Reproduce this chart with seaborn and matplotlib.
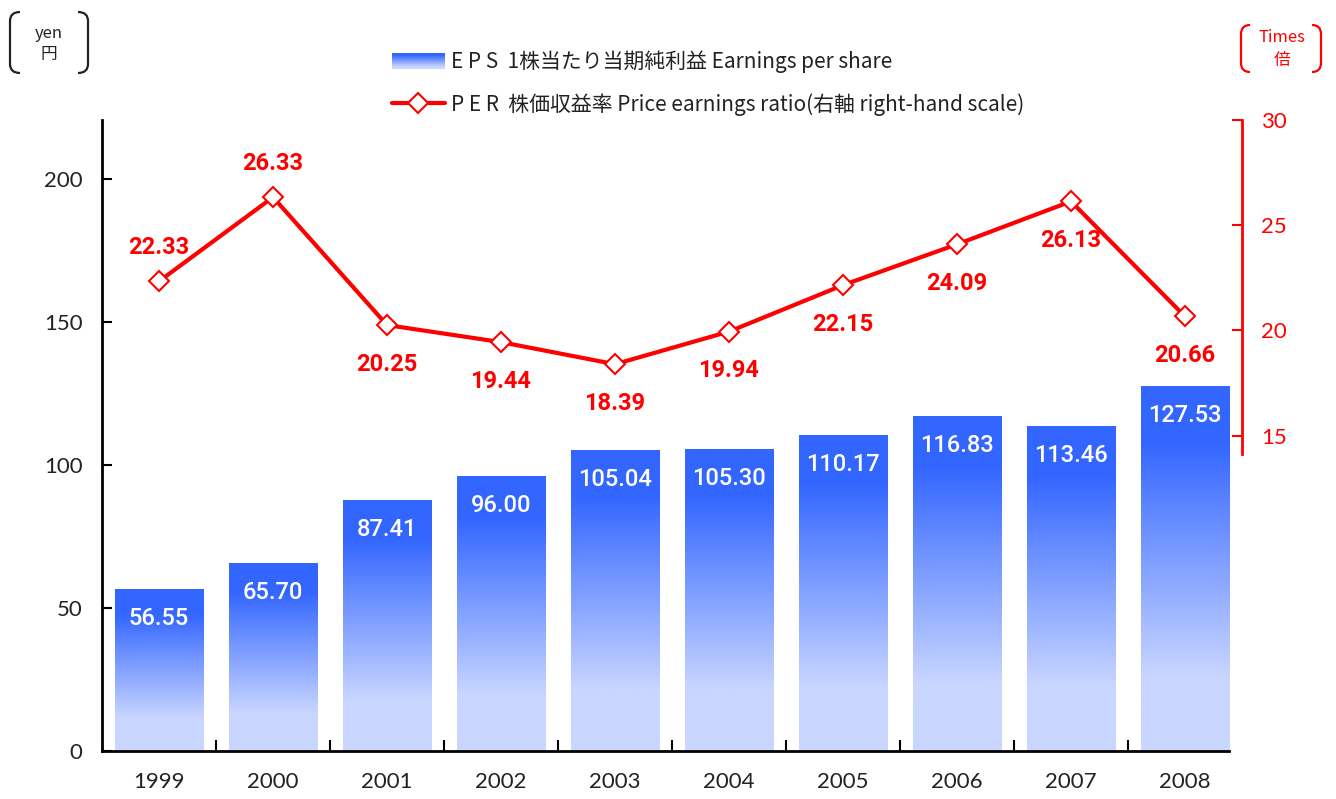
import numpy as np
import pandas as pd
import matplotlib
matplotlib.use("Agg")
import matplotlib.pyplot as plt
import seaborn as sns
from matplotlib.path import Path
from matplotlib.patches import PathPatch, Rectangle
from matplotlib.lines import Line2D
from matplotlib.legend_handler import HandlerBase

# ---------------- data ----------------
years = ["1999", "2000", "2001", "2002", "2003", "2004", "2005", "2006", "2007", "2008"]
eps = [56.55, 65.70, 87.41, 96.00, 105.04, 105.30, 110.17, 116.83, 113.46, 127.53]
per = [22.33, 26.33, 20.25, 19.44, 18.39, 19.94, 22.15, 24.09, 26.13, 20.66]
per_label_above = [True, True, False, False, False, False, False, False, False, False]
left_ticks = [0, 50, 100, 150, 200]
right_ticks = [15, 20, 25, 30]
legend_labels = ["E P S  1株当たり当期純利益 Earnings per share",
                 "P E R  株価収益率 Price earnings ratio(右軸 right-hand scale)"]

W, H = 1336, 799
TOP_BLUE = np.array([0x33, 0x66, 0xFF]) / 255
BOTTOM_BLUE = np.array([0xC9, 0xD6, 0xFF]) / 255


def grad_colors(t):
    s = np.clip((t - 0.2) / 0.65, 0, 1)
    return BOTTOM_BLUE[None, :] * (1 - s[:, None]) + TOP_BLUE[None, :] * s[:, None]


sns.set_theme(style="white")
plt.rcParams["font.family"] = ["Noto Sans CJK JP", "DejaVu Sans"]

fig = plt.figure(figsize=(W / 100, H / 100), dpi=100)
ax = fig.add_axes([102 / W, 1 - 751 / H, (1242 - 102) / W, (751 - 120) / H])

df = pd.DataFrame({"year": years, "eps": eps})
sns.barplot(data=df, x="year", y="eps", ax=ax, width=0.78, color="#3366ff",
            saturation=1, zorder=2)

# gradient fill for each bar
t = np.linspace(0, 1, 256)
img = grad_colors(t)[:, None, :]
for p in ax.patches:
    x0, w, h = p.get_x(), p.get_width(), p.get_height()
    ax.imshow(img, extent=[x0, x0 + w, 0, h], aspect="auto", origin="lower",
              zorder=2, interpolation="bilinear")
    p.set_visible(False)

ax.set_xlim(-0.5, 9.5)
ax.set_ylim(0, 220.6)
ax.set_xlabel("")
ax.set_ylabel("")
ax.set_yticks(left_ticks)
ax.set_xticks(range(len(years)))
ax.set_xticklabels(years)
ax.set_xticks(np.arange(0.5, len(years) - 0.5, 1), minor=True)
for s in ["top", "right"]:
    ax.spines[s].set_visible(False)
for s in ["left", "bottom"]:
    ax.spines[s].set_color("black")
    ax.spines[s].set_linewidth(2)
ax.spines["bottom"].set_bounds(-0.5, 9.39)
ax.tick_params(axis="y", direction="in", length=7, width=1.5, color="black",
               labelcolor="#222222", labelsize=16, pad=14, left=True)
ax.tick_params(axis="x", which="major", length=0, labelcolor="#222222",
               labelsize=16, pad=15)
ax.tick_params(axis="x", which="minor", direction="in", length=8, width=1.5,
               color="black", bottom=True)
for lab in ax.get_xticklabels() + ax.get_yticklabels():
    lab.set_family(["Lato", "DejaVu Sans"])

for i, v in enumerate(eps):
    ax.annotate(f"{v:.2f}", (i, v), xytext=(0, -29), textcoords="offset pixels",
                ha="center", va="center", color="white", fontsize=17,
                family=["Roboto", "DejaVu Sans"], fontweight="medium", zorder=5)

# PER line on right axis
ax2 = ax.twinx()
sns.lineplot(x=np.arange(len(per)), y=per, ax=ax2, color="red", lw=3,
             marker="D", markersize=10.5, markerfacecolor="white",
             markeredgecolor="red", markeredgewidth=1.5, zorder=4)
ax2.set_ylim(0, 30)
ax2.set_xlim(-0.5, 9.5)
ax2.set_yticks(right_ticks)
ax2.set_ylabel("")
for s in ["top", "left", "bottom"]:
    ax2.spines[s].set_visible(False)
ax2.spines["right"].set_color("red")
ax2.spines["right"].set_linewidth(2)
ax2.spines["right"].set_bounds(14.1, 30)
ax2.tick_params(axis="y", direction="in", length=7, width=1.5, color="red",
                labelcolor="red", labelsize=16, pad=14, right=True)
for lab in ax2.get_yticklabels():
    lab.set_family(["Lato", "DejaVu Sans"])

for i, (v, above) in enumerate(zip(per, per_label_above)):
    ax2.annotate(f"{v:.2f}", (i, v), xytext=(0, 34 if above else -39),
                 textcoords="offset pixels", ha="center", va="center",
                 color="red", fontsize=17, family=["Roboto", "DejaVu Sans"],
                 fontweight="bold", zorder=5)


# legend with gradient swatch
class GradHandle:
    pass


class HandlerGradient(HandlerBase):
    def create_artists(self, legend, orig_handle, xdescent, ydescent, width,
                       height, fontsize, trans):
        n = 24
        arts = []
        cols = grad_colors(np.linspace(0.1, 0.95, n))
        for k in range(n):
            r = Rectangle((-xdescent, -ydescent + height * k / n), width,
                          height / n + 0.3, facecolor=cols[k], edgecolor="none",
                          transform=trans)
            arts.append(r)
        return arts


line_handle = Line2D([], [], color="red", lw=3, marker="D", markersize=10.5,
                     markerfacecolor="white", markeredgecolor="red",
                     markeredgewidth=1.5)
fig.legend([GradHandle(), line_handle], legend_labels, loc="upper left",
           bbox_to_anchor=(373 / W, 1 - 32 / H), frameon=False, fontsize=15,
           handlelength=2.55, handleheight=0.8, handletextpad=0.3,
           labelspacing=0.95, handler_map={GradHandle: HandlerGradient()},
           labelcolor="#222222")

# unit labels with brackets
fig.text(49 / W, 1 - 33 / H, "yen", ha="center", va="center", fontsize=12,
         color="#222222")
fig.text(49 / W, 1 - 55 / H, "円", ha="center", va="center", fontsize=12,
         color="#222222")
fig.text(1282 / W, 1 - 38 / H, "Times", ha="center", va="center", fontsize=12,
         color="red")
fig.text(1282 / W, 1 - 61 / H, "倍", ha="center", va="center", fontsize=12,
         color="red")


def bracket(x_outer, x_tip, y_top, y_bot, color):
    r = 9
    verts = [(x_tip, y_top), (x_outer, y_top), (x_outer, y_top + r),
             (x_outer, y_bot - r), (x_outer, y_bot), (x_tip, y_bot)]
    codes = [Path.MOVETO, Path.CURVE3, Path.CURVE3, Path.LINETO,
             Path.CURVE3, Path.CURVE3]
    verts = [(x / W, 1 - y / H) for x, y in verts]
    fig.add_artist(PathPatch(Path(verts, codes), fill=False, edgecolor=color,
                             lw=1.6, transform=fig.transFigure))


bracket(10, 20, 12, 73, "#222222")
bracket(88, 78, 12, 73, "#222222")
bracket(1241, 1250, 25, 72, "red")
bracket(1321, 1312, 25, 72, "red")

fig.savefig("out.png", dpi=100)
